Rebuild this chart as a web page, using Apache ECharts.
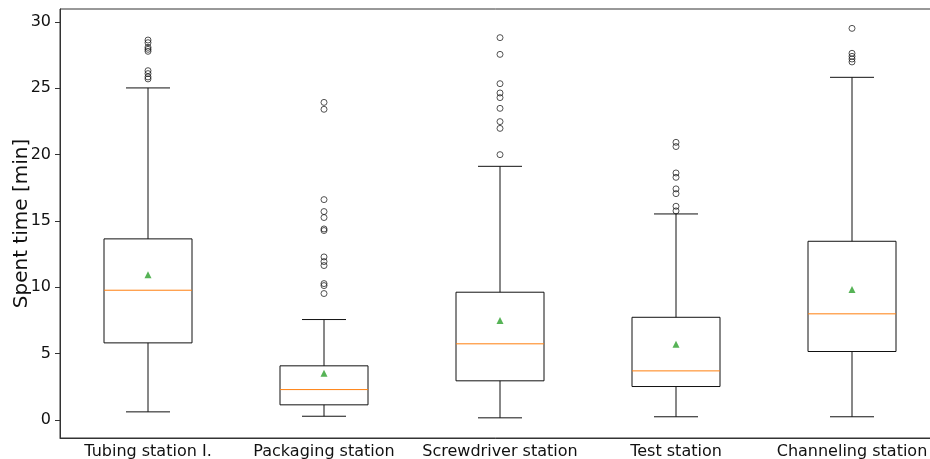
<!DOCTYPE html>
<html>
<head>
<meta charset="utf-8">
<script src="https://cdn.jsdelivr.net/npm/echarts@6/dist/echarts.min.js"></script>
<style>
  html, body { margin: 0; padding: 0; background: #fff; }
  #chart { width: 930px; height: 459px; }
</style>
</head>
<body>
<div id="chart"></div>
<script>
// Spent time per station (minutes): five-number summaries, means and outliers
const categories = ['Tubing station I.', 'Packaging station', 'Screwdriver station', 'Test station', 'Channeling station'];
const whiskerLow  = [0.60, 0.27, 0.15, 0.23, 0.23];
const q1          = [5.80, 1.13, 2.94, 2.51, 5.15];
const medians     = [9.77, 2.28, 5.73, 3.69, 7.99];
const q3          = [13.64, 4.07, 9.62, 7.73, 13.46];
const whiskerHigh = [25.02, 7.56, 19.11, 15.52, 25.82];
const means       = [10.93, 3.51, 7.48, 5.70, 9.82];
const outliers = [
  [28.63, 28.43, 28.08, 27.93, 27.78, 26.32, 26.10, 25.85, 25.70],
  [23.93, 23.41, 16.60, 15.70, 15.25, 14.39, 14.27, 12.28, 11.93, 11.63, 10.27, 10.12, 9.52],
  [28.81, 27.55, 25.34, 24.64, 24.29, 23.48, 22.48, 21.97, 19.99],
  [20.92, 20.60, 18.61, 18.28, 17.41, 17.05, 16.10, 15.75],
  [29.51, 27.63, 27.40, 27.20, 26.98]
];
const yTicks = [0, 5, 10, 15, 20, 25, 30];

const boxData = categories.map((c, i) => [i, whiskerLow[i], q1[i], medians[i], q3[i], whiskerHigh[i]]);
const outlierData = [];
outliers.forEach((vals, i) => vals.forEach(v => outlierData.push([i, v])));
const meanData = means.map((v, i) => [i, v]);

function renderBox(params, api) {
  const idx = api.value(0);
  const band = api.size([1, 0])[0];
  const half = band * 0.25;      // box spans half the category band
  const capHalf = band * 0.125;  // caps span half the box
  const cx = api.coord([idx, 0])[0];
  const y = v => api.coord([idx, v])[1];
  const lo = y(api.value(1)), b1 = y(api.value(2)), md = y(api.value(3)),
        b3 = y(api.value(4)), hi = y(api.value(5));
  const line = { stroke: '#111', lineWidth: 1, fill: null };
  return {
    type: 'group',
    children: [
      { type: 'line', shape: { x1: cx, y1: b3, x2: cx, y2: hi }, style: line },
      { type: 'line', shape: { x1: cx, y1: b1, x2: cx, y2: lo }, style: line },
      { type: 'line', shape: { x1: cx - capHalf, y1: hi, x2: cx + capHalf, y2: hi }, style: line },
      { type: 'line', shape: { x1: cx - capHalf, y1: lo, x2: cx + capHalf, y2: lo }, style: line },
      { type: 'rect', shape: { x: cx - half, y: b3, width: half * 2, height: b1 - b3 }, style: line },
      { type: 'line', shape: { x1: cx - half, y1: md, x2: cx + half, y2: md }, style: { stroke: '#ff7f0e', lineWidth: 1 } }
    ]
  };
}

const chart = echarts.init(document.getElementById('chart'), null, { renderer: 'canvas' });
chart.setOption({
  animation: false,
  backgroundColor: '#fff',
  textStyle: { fontFamily: 'DejaVu Sans' },
  grid: {
    left: 60, top: 9, width: 880, height: 429,
    outerBoundsMode: 'none', containLabel: false,
    show: true, borderColor: '#333', borderWidth: 1, backgroundColor: 'transparent'
  },
  xAxis: {
    type: 'category',
    data: categories,
    boundaryGap: true,
    axisLine: { onZero: false, lineStyle: { color: '#333', width: 1 } },
    axisTick: { alignWithLabel: true, interval: 0, length: 5, lineStyle: { color: '#333' } },
    axisLabel: { color: '#111', fontSize: 16, margin: 6, interval: 0, fontFamily: 'DejaVu Sans' },
    splitLine: { show: false }
  },
  yAxis: {
    type: 'value',
    min: -1.37,
    max: 30.97,
    name: 'Spent time [min]',
    nameLocation: 'middle',
    nameRotate: 90,
    nameGap: 28,
    nameMoveOverlap: false,
    nameTextStyle: { color: '#111', fontSize: 20, fontFamily: 'DejaVu Sans' },
    axisLine: { show: true, lineStyle: { color: '#333', width: 1 } },
    axisTick: { show: true, length: 5, customValues: yTicks, lineStyle: { color: '#333' } },
    axisLabel: { color: '#111', fontSize: 16, margin: 9, customValues: yTicks, fontFamily: 'DejaVu Sans' },
    splitLine: { show: false }
  },
  series: [
    {
      type: 'custom',
      renderItem: renderBox,
      data: boxData,
      encode: { x: 0, y: [1, 2, 3, 4, 5] },
      z: 2
    },
    {
      type: 'scatter',
      data: outlierData,
      symbol: 'circle',
      symbolSize: 6,
      itemStyle: { color: 'rgba(0,0,0,0)', borderColor: '#111', borderWidth: 0.9 },
      z: 3
    },
    {
      type: 'scatter',
      data: meanData,
      symbol: 'triangle',
      symbolSize: 7,
      itemStyle: { color: '#2ca02c' },
      z: 4
    }
  ]
});
</script>
</body>
</html>
